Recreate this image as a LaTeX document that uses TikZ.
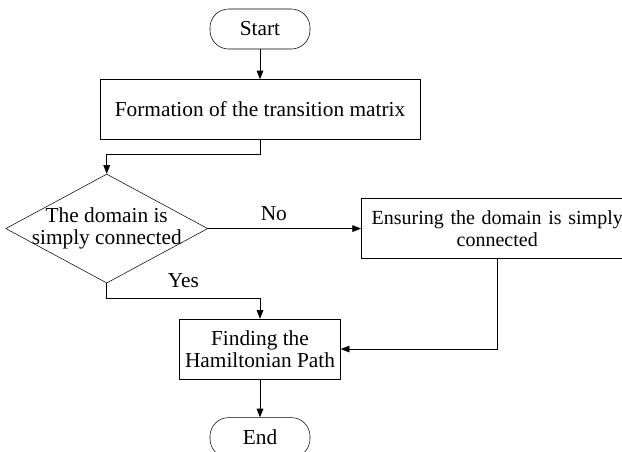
\documentclass[tikz,border=0pt]{standalone}
\usepackage{fontspec}
\setmainfont{Liberation Serif}
\usetikzlibrary{arrows.meta, positioning, shapes.geometric}

\begin{document}
\begin{tikzpicture}[
  font=\fontsize{16}{16.5}\selectfont,
  term/.style={draw, rectangle, rounded corners=14pt, minimum width=75pt, minimum height=30pt, inner sep=2pt},
  box/.style={draw, rectangle, align=center, minimum height=45pt, inner sep=3pt},
  decision/.style={draw, diamond, aspect=1.85, align=center, inner xsep=-10pt, inner ysep=-6pt, minimum width=151.5pt, minimum height=81.75pt},
  ar/.style={-{Triangle[length=6.5pt, width=5pt]}, line width=0.6pt}]

\useasboundingbox (0,0) rectangle (466.5pt,-338.25pt);

% --- main column
\node[term] (start) at (195pt,-21.75pt) {Start};
\node[box, minimum width=240pt, below=22.5pt of start] (form) {Formation of the transition matrix};
\node[decision, below=25.5pt of form.south west, xshift=5.25pt] (dec) {The domain is\\simply connected};
\node[box, font=\fontsize{15}{16.5}\selectfont, text width=204pt, inner xsep=0pt, right=114.75pt of dec] (ensure) {Ensuring the domain is simply\\connected};
\node[box, minimum width=120.75pt, below=134.25pt of form] (ham) {Finding the\\Hamiltonian Path};
\node[term, below=28.5pt of ham] (end) {End};

% --- connectors
\draw[ar] (start) -- (form);
\draw[ar] (form.south) -- ++(0,-11.25pt) -| (dec.north);
\draw[ar] (dec.east) -- node[above, pos=0.43, yshift=2pt] {No} (ensure.west);
\coordinate (yb) at ([yshift=-11.25pt]dec.south);
\draw[ar] (dec.south) -- (yb) -| node[above, pos=0.25, yshift=4pt] {Yes} (ham.north);
\draw[ar] (ensure.south) |- (ham.east);
\draw[ar] (ham) -- (end);
\end{tikzpicture}
\end{document}
